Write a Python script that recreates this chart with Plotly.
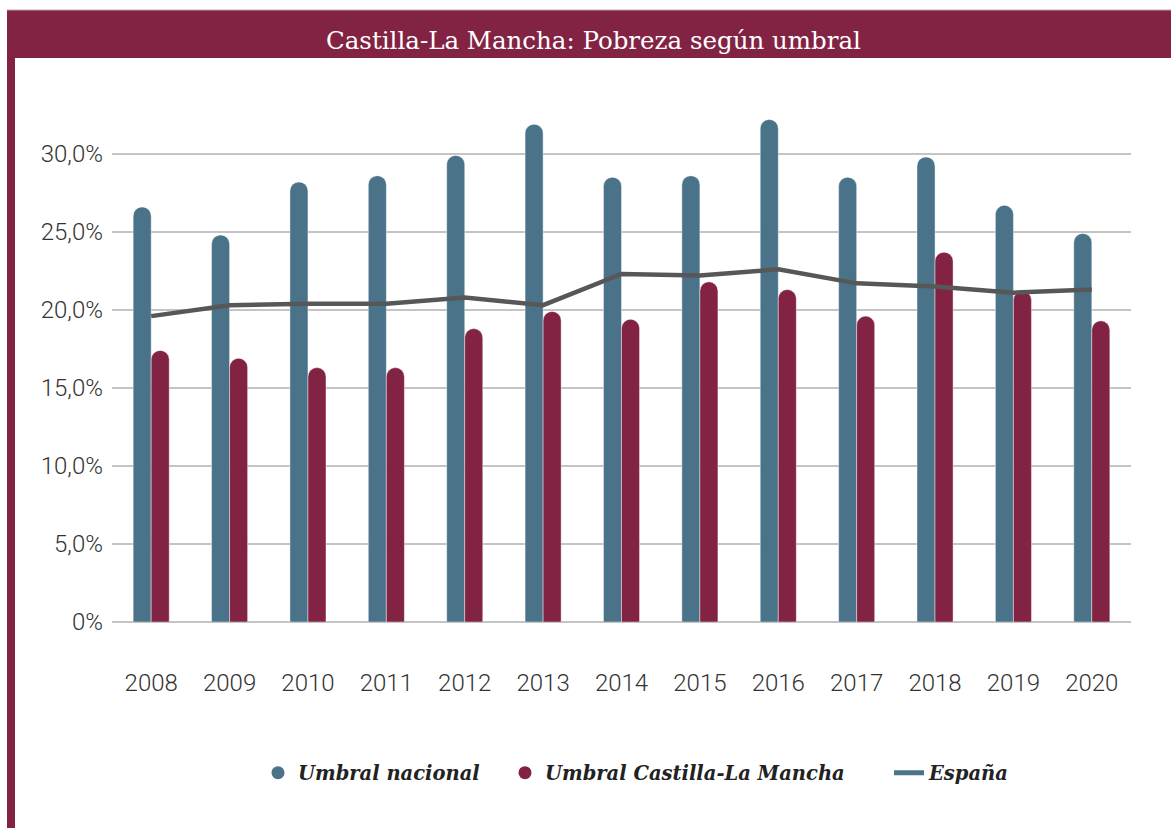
import plotly.graph_objects as go

years = ["2008", "2009", "2010", "2011", "2012", "2013", "2014",
         "2015", "2016", "2017", "2018", "2019", "2020"]
umbral_nacional = [26.6, 24.8, 28.2, 28.6, 29.9, 31.9, 28.5, 28.6, 32.2, 28.5, 29.8, 26.7, 24.9]
umbral_clm = [17.4, 16.9, 16.3, 16.3, 18.8, 19.9, 19.4, 21.8, 21.3, 19.6, 23.7, 21.2, 19.3]
espana = [19.6, 20.3, 20.4, 20.4, 20.8, 20.3, 22.3, 22.2, 22.6, 21.7, 21.5, 21.1, 21.3]

y_tickvals = [0, 5, 10, 15, 20, 25, 30]
y_ticktext = ["0%", "5,0%", "10,0%", "15,0%", "20,0%", "25,0%", "30,0%"]

title_text = "Castilla-La Mancha: Pobreza según umbral"
names = ["Umbral nacional", "Umbral Castilla-La Mancha", "España"]

BLUE = "#4a7389"
MAROON = "#822344"
GREY_LINE = "#575757"

W, H = 1171, 828
L, R, T, B = 112, 40, 107, 206
pw = W - L - R
ph = H - T - B


def px_x(p):
    return (p - L) / pw


def px_y(p):
    return (H - B - p) / ph


fig = go.Figure()
fig.add_trace(go.Bar(x=years, y=umbral_nacional, name=names[0], marker=dict(
    color=BLUE, cornerradius=9, line=dict(width=0.6, color="rgba(255,255,255,0.7)")),
    showlegend=False))
fig.add_trace(go.Bar(x=years, y=umbral_clm, name=names[1], marker=dict(
    color=MAROON, cornerradius=9, line=dict(width=0.6, color="rgba(255,255,255,0.7)")),
    showlegend=False))
fig.add_trace(go.Scatter(x=years, y=espana, name=names[2], mode="lines",
                         line=dict(color=GREY_LINE, width=4.5), showlegend=False))

# legend entries (each in its own legend so they can be placed like the original)
fig.add_trace(go.Scatter(x=[None], y=[None], mode="markers", name=names[0], legend="legend",
                         marker=dict(symbol="circle", size=13, color=BLUE)))
fig.add_trace(go.Scatter(x=[None], y=[None], mode="markers", name=names[1], legend="legend2",
                         marker=dict(symbol="circle", size=13, color=MAROON)))
fig.add_trace(go.Scatter(x=[None], y=[None], mode="lines", name=names[2], legend="legend3",
                         line=dict(color=BLUE, width=5)))

legend_font = dict(family="DejaVu Serif", size=19.5, color="#222222", style="italic", weight="bold")


def make_legend(xpx):
    return dict(orientation="h", x=px_x(xpx), xanchor="left", y=px_y(773), yanchor="middle",
                font=legend_font, itemwidth=30, bgcolor="rgba(0,0,0,0)", borderwidth=0)


fig.update_layout(
    width=W, height=H,
    margin=dict(l=L, r=R, t=T, b=B, autoexpand=False),
    paper_bgcolor="white", plot_bgcolor="white",
    barmode="group", bargap=0.54, bargroupgap=0,
    showlegend=True,
    legend=make_legend(258),
    legend2=make_legend(505),
    legend3=make_legend(889),
    xaxis=dict(range=[-0.5, 12.5], showgrid=False, ticks="", showline=False,
               tickfont=dict(family="Roboto", size=24, color="#333333", weight=300),
               ticklabelstandoff=44),
    yaxis=dict(range=[0, 33], tickvals=y_tickvals, ticktext=y_ticktext,
               showgrid=True, gridcolor="#c4c4c4", gridwidth=1.5,
               zeroline=True, zerolinecolor="#c4c4c4", zerolinewidth=1.5,
               showline=False, ticks="",
               tickfont=dict(family="Roboto", size=24, color="#333333", weight=300),
               ticklabelstandoff=8),
    shapes=[
        dict(type="rect", xref="paper", yref="paper",
             x0=px_x(7), x1=px_x(1175), y0=px_y(58), y1=px_y(10),
             fillcolor=MAROON, line=dict(width=0), layer="above"),
        dict(type="line", xref="paper", yref="paper",
             x0=px_x(7), x1=px_x(1175), y0=px_y(10), y1=px_y(10),
             line=dict(color="#b9a3ab", width=1)),
        dict(type="rect", xref="paper", yref="paper",
             x0=px_x(7), x1=px_x(15), y0=px_y(830), y1=px_y(58),
             fillcolor=MAROON, line=dict(width=0), layer="above"),
    ],
    annotations=[
        dict(text=title_text, xref="paper", yref="paper", x=px_x(593), y=px_y(40),
             xanchor="center", yanchor="middle", showarrow=False,
             font=dict(family="DejaVu Serif", size=24.5, color="white")),
    ],
)

fig.write_html("out.html", config={"displayModeBar": False},
               post_script="document.body.style.margin='0';document.body.style.overflow='hidden';")
